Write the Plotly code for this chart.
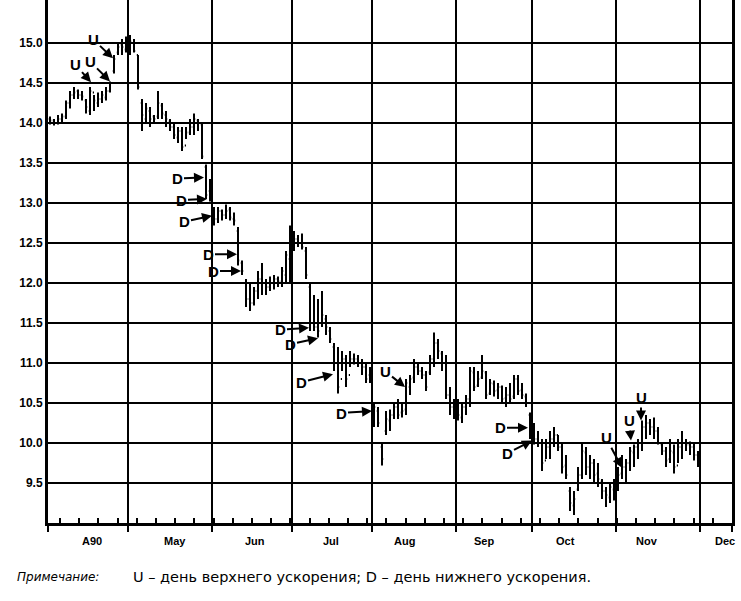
import numpy as np
import plotly.graph_objects as go

# ---------------- data ----------------
months = ["A90", "May", "Jun", "Jul", "Aug", "Sep", "Oct", "Nov", "Dec"]
month_days = [20, 21, 20, 20, 21, 19, 21, 21, 8]
month_label_pos = [10.5, 31.25, 51.25, 70.25, 88.5, 108.5, 128.75, 149.25, 168.75]
y_ticks = [9.5, 10.0, 10.5, 11.0, 11.5, 12.0, 12.5, 13.0, 13.5, 14.0, 14.5, 15.0]

apr_open = [14.05, 14.03, 14.00, 14.05, 14.08, 14.25, 14.35, 14.40, 14.35, 14.28, 14.15, 14.38, 14.25, 14.30, 14.32, 14.40, 14.65, 14.88, 14.98, 14.92]
apr_high = [14.08, 14.05, 14.10, 14.12, 14.28, 14.40, 14.45, 14.42, 14.40, 14.30, 14.45, 14.35, 14.38, 14.40, 14.45, 14.52, 14.85, 15.00, 15.05, 15.08]
apr_low = [13.98, 13.97, 13.98, 14.00, 14.05, 14.18, 14.30, 14.30, 14.28, 14.12, 14.10, 14.15, 14.20, 14.25, 14.28, 14.38, 14.62, 14.85, 14.85, 14.88]
apr_close = [14.03, 14.00, 14.05, 14.08, 14.25, 14.35, 14.38, 14.35, 14.33, 14.20, 14.40, 14.28, 14.30, 14.35, 14.40, 14.50, 14.80, 14.95, 14.95, 15.00]

may_open = [14.95, 15.00, 14.85, 14.25, 14.05, 14.15, 14.08, 14.08, 14.22, 14.10, 14.02, 13.95, 13.82, 13.90, 13.72, 13.88, 13.95, 14.03, 13.98, 13.45, 13.15]
may_high = [15.10, 15.05, 14.85, 14.30, 14.25, 14.20, 14.10, 14.40, 14.25, 14.15, 14.05, 14.00, 13.95, 13.95, 13.95, 14.05, 14.12, 14.05, 14.00, 13.48, 13.30]
may_low = [14.85, 14.88, 14.42, 13.90, 14.00, 13.95, 14.00, 14.05, 14.05, 13.95, 13.90, 13.80, 13.75, 13.65, 13.80, 13.85, 13.85, 13.90, 13.55, 13.05, 13.02]
may_close = [15.02, 14.90, 14.45, 14.10, 14.18, 14.05, 14.05, 14.25, 14.12, 14.05, 13.95, 13.85, 13.90, 13.70, 13.88, 13.95, 14.05, 14.00, 13.58, 13.10, 13.05]

jun_open = [12.90, 12.80, 12.90, 12.85, 12.92, 12.80, 12.65, 12.25, 12.00, 11.80, 11.75, 11.90, 12.05, 12.00, 11.95, 12.00, 12.05, 12.02, 12.10, 12.30]
jun_high = [12.95, 12.95, 12.92, 12.98, 12.95, 12.88, 12.70, 12.28, 12.05, 12.00, 11.95, 12.15, 12.25, 12.05, 12.08, 12.10, 12.08, 12.20, 12.40, 12.72]
jun_low = [12.72, 12.75, 12.78, 12.80, 12.78, 12.72, 12.22, 12.10, 11.70, 11.65, 11.72, 11.80, 11.85, 11.85, 11.90, 11.92, 11.95, 11.95, 12.00, 12.00]
jun_close = [12.80, 12.90, 12.85, 12.90, 12.82, 12.78, 12.28, 12.15, 11.80, 11.75, 11.90, 12.05, 12.00, 11.95, 12.00, 12.05, 12.02, 12.15, 12.35, 12.60]

jul_open = [12.60, 12.55, 12.50, 12.40, 11.95, 11.50, 11.45, 11.50, 11.55, 11.40, 11.20, 11.00, 10.80, 11.05, 10.85, 11.05, 11.05, 11.00, 10.95, 10.85]
jul_high = [12.65, 12.60, 12.62, 12.45, 12.00, 11.85, 11.80, 11.90, 11.60, 11.45, 11.25, 11.20, 11.15, 11.10, 11.15, 11.12, 11.10, 11.05, 11.00, 10.95]
jul_low = [12.40, 12.45, 12.42, 12.05, 11.40, 11.40, 11.32, 11.45, 11.35, 11.25, 10.90, 10.62, 10.90, 10.70, 10.95, 10.98, 10.95, 10.85, 10.75, 10.75]
jul_close = [12.55, 12.50, 12.45, 12.10, 11.50, 11.45, 11.40, 11.60, 11.45, 11.30, 11.00, 10.70, 11.05, 10.80, 11.05, 11.05, 11.00, 10.95, 10.80, 10.80]

aug_open = [10.30, 10.40, 9.95, 10.15, 10.28, 10.35, 10.45, 10.38, 10.42, 10.70, 10.82, 10.95, 10.90, 10.85, 10.88, 11.05, 11.25, 11.12, 11.00, 10.60, 10.45]
aug_high = [10.50, 10.45, 10.00, 10.40, 10.42, 10.50, 10.55, 10.50, 10.80, 10.85, 11.05, 11.00, 10.95, 10.90, 11.10, 11.38, 11.30, 11.15, 11.10, 10.70, 10.55]
aug_low = [10.20, 10.20, 9.72, 10.10, 10.15, 10.30, 10.30, 10.32, 10.35, 10.60, 10.75, 10.85, 10.80, 10.65, 10.85, 10.95, 11.05, 10.90, 10.55, 10.35, 10.30]
aug_close = [10.45, 10.25, 9.80, 10.30, 10.35, 10.45, 10.35, 10.40, 10.75, 10.80, 10.95, 10.90, 10.85, 10.70, 11.05, 11.25, 11.15, 11.00, 10.60, 10.45, 10.40]

sep_open = [10.42, 10.32, 10.45, 10.55, 10.88, 10.72, 10.82, 10.88, 10.62, 10.74, 10.66, 10.70, 10.56, 10.60, 10.58, 10.80, 10.66, 10.58, 10.35]
sep_high = [10.55, 10.50, 10.60, 10.95, 10.95, 10.90, 11.10, 10.90, 10.80, 10.78, 10.75, 10.72, 10.70, 10.75, 10.85, 10.85, 10.75, 10.62, 10.38]
sep_low = [10.28, 10.25, 10.35, 10.45, 10.65, 10.70, 10.80, 10.55, 10.60, 10.58, 10.55, 10.50, 10.45, 10.50, 10.55, 10.60, 10.55, 10.45, 10.05]
sep_close = [10.35, 10.45, 10.55, 10.90, 10.70, 10.80, 10.90, 10.60, 10.75, 10.65, 10.70, 10.55, 10.60, 10.55, 10.80, 10.65, 10.60, 10.50, 10.10]

oct_open = [10.15, 10.05, 10.00, 9.78, 9.95, 10.05, 10.10, 9.95, 9.72, 9.40, 9.22, 9.42, 9.60, 9.88, 9.70, 9.75, 9.62, 9.52, 9.40, 9.32, 9.42]
oct_high = [10.25, 10.15, 10.05, 10.05, 10.15, 10.20, 10.10, 10.00, 9.85, 9.45, 9.40, 9.70, 10.00, 9.95, 9.85, 9.80, 9.75, 9.55, 9.45, 9.50, 9.55]
oct_low = [9.98, 9.95, 9.65, 9.80, 9.80, 9.95, 9.90, 9.62, 9.55, 9.15, 9.10, 9.40, 9.55, 9.60, 9.55, 9.50, 9.45, 9.30, 9.20, 9.25, 9.28]
oct_close = [10.05, 10.00, 9.75, 9.95, 10.05, 10.10, 9.95, 9.70, 9.60, 9.25, 9.30, 9.60, 9.90, 9.70, 9.75, 9.60, 9.55, 9.40, 9.35, 9.45, 9.50]

nov_open = [9.52, 9.62, 9.70, 9.75, 9.88, 9.95, 10.00, 10.20, 10.25, 10.20, 10.15, 9.98, 9.90, 9.80, 9.88, 9.72, 9.95, 10.00, 9.98, 9.95, 9.85]
nov_high = [9.70, 9.85, 9.80, 9.95, 9.98, 10.05, 10.28, 10.35, 10.30, 10.32, 10.20, 10.00, 9.95, 10.05, 9.98, 10.05, 10.15, 10.05, 10.02, 10.00, 9.90]
nov_low = [9.40, 9.55, 9.50, 9.65, 9.70, 9.80, 9.90, 10.05, 10.10, 10.05, 9.98, 9.85, 9.70, 9.75, 9.62, 9.75, 9.80, 9.90, 9.85, 9.78, 9.70]
nov_close = [9.60, 9.70, 9.75, 9.90, 9.95, 10.00, 10.20, 10.25, 10.20, 10.15, 10.00, 9.90, 9.78, 9.90, 9.70, 9.95, 10.00, 9.98, 9.95, 9.85, 9.75]

# U / D acceleration days: (label, trading-day position, price at arrow tip)
accel_text = ["U", "U", "U", "U", "U", "U", "U",
              "D", "D", "D", "D", "D", "D", "D", "D", "D", "D", "D"]
accel_day = [10.25, 15.0, 15.75, 88.75, 143.0, 145.25, 147.75,
             38.5, 39.25, 40.5, 46.75, 47.75, 64.75, 67.0, 70.75, 80.5, 119.5, 120.5]
accel_price = [14.51, 14.52, 14.81, 10.70, 9.69, 10.03, 10.28,
               13.32, 13.05, 12.84, 12.36, 12.15, 11.44, 11.31, 10.86, 10.40, 10.19, 10.03]

caption_head = "Примечание:"
caption_body = "U – день верхнего ускорения; D – день нижнего ускорения."

# ---------------- build ----------------
opens = apr_open + may_open + jun_open + jul_open + aug_open + sep_open + oct_open + nov_open
highs = apr_high + may_high + jun_high + jul_high + aug_high + sep_high + oct_high + nov_high
lows = apr_low + may_low + jun_low + jul_low + aug_low + sep_low + oct_low + nov_low
closes = apr_close + may_close + jun_close + jul_close + aug_close + sep_close + oct_close + nov_close
n = len(closes)
assert len(opens) == len(highs) == len(lows) == n
days = list(range(n))

bounds = list(np.cumsum([0] + month_days) - 0.5)
x_lo, x_hi = bounds[0], bounds[-1]
week_ticks = list(np.arange(2.5, x_hi, 4.8))

fig = go.Figure()
fig.add_trace(go.Ohlc(
    x=days, open=opens, high=highs, low=lows, close=closes,
    increasing=dict(line=dict(color="black", width=2)),
    decreasing=dict(line=dict(color="black", width=2)),
    tickwidth=0.3, hoverinfo="skip", showlegend=False,
))

# arrow-tail offsets in px (text centre relative to arrow tip)
offsets = [(-16, -18), (-20, -20), (-20, -19), (-20, -16), (-16, -30), (-2, -20), (0, -23),
           (-27, 1), (-26, 1), (-28, 6), (-29, 0), (-28, 0), (-29, 2), (-28, 6), (-32, 8),
           (-31, 2), (-28, 0), (-25, 13)]
ann = []
for t, d, p, (ax, ay) in zip(accel_text, accel_day, accel_price, offsets):
    ann.append(dict(x=d, y=p, xref="x", yref="y", text=t, showarrow=True,
                    ax=ax, ay=ay, arrowhead=2, arrowsize=1, arrowwidth=2,
                    arrowcolor="black", standoff=0, startstandoff=0,
                    font=dict(family="Liberation Sans", size=15, color="black", weight="bold")))

for m, pos in zip(months, month_label_pos):
    ann.append(dict(x=pos, y=0, xref="x", yref="paper", yshift=-18, text=m,
                    showarrow=False, yanchor="middle", xanchor="center",
                    font=dict(family="Liberation Sans", size=11, color="black", weight="bold")))

ann.append(dict(x=15, y=577, xref="paper", yref="paper", text="<i>" + caption_head + "</i>",
                showarrow=False, xanchor="left", yanchor="middle",
                font=dict(family="DejaVu Sans", size=12, color="black")))
ann.append(dict(x=131, y=577, xref="paper", yref="paper", text=caption_body,
                showarrow=False, xanchor="left", yanchor="middle",
                font=dict(family="DejaVu Sans", size=14.5, color="black")))

# convert caption pixel positions to paper coordinates
L, R, T, B, W, H = 48, 9, 0, 78, 741, 601
pw, ph = W - L - R, H - T - B
for a in ann[-2:]:
    a["x"] = (a["x"] - L) / pw
    a["y"] = (H - B - a["y"]) / ph

fig.update_layout(
    width=W, height=H,
    margin=dict(l=L, r=R, t=T, b=B),
    paper_bgcolor="white", plot_bgcolor="white",
    annotations=ann,
    xaxis=dict(
        range=[x_lo, x_hi], rangeslider=dict(visible=False),
        tickmode="array", tickvals=bounds, ticktext=[""] * len(bounds),
        showgrid=True, gridcolor="black", gridwidth=2,
        ticks="outside", ticklen=6, tickwidth=2, tickcolor="black",
        showline=True, linecolor="black", linewidth=3, zeroline=False,
        minor=dict(tickmode="array", tickvals=week_ticks, ticks="inside",
                   ticklen=5, tickwidth=2, tickcolor="black", showgrid=False),
    ),
    yaxis=dict(
        range=[9.0, 15.5375], tickmode="array", tickvals=y_ticks,
        ticktext=[f"{v:.1f}" for v in y_ticks],
        showgrid=True, gridcolor="black", gridwidth=2,
        showline=True, linecolor="black", linewidth=3, mirror=True,
        ticks="", zeroline=False,
        tickfont=dict(family="Liberation Sans", size=12, color="black", weight="bold"),
    ),
)

fig.write_html("out.html", config={"displayModeBar": False},
               post_script="document.body.style.margin='0px';")
